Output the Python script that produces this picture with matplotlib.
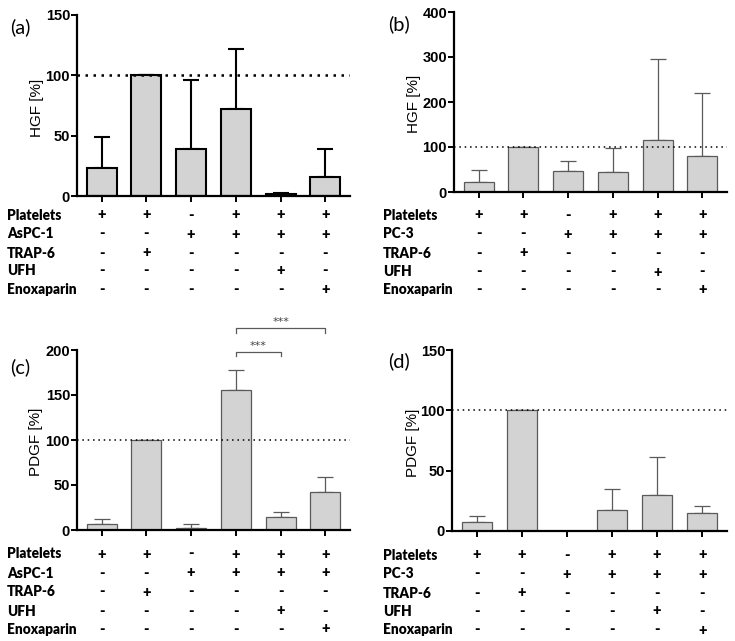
import matplotlib
matplotlib.use("Agg")
import matplotlib.pyplot as plt
from matplotlib.transforms import blended_transform_factory

W, H = 735, 641

# ---------------- data ----------------
conditions = ["Platelets", "CELL", "TRAP-6", "UFH", "Enoxaparin"]
signs = [
    ["+", "+", "-", "+", "+", "+"],
    ["-", "-", "+", "+", "+", "+"],
    ["-", "+", "-", "-", "-", "-"],
    ["-", "-", "-", "-", "+", "-"],
    ["-", "-", "-", "-", "-", "+"],
]

hgf_aspc1 = [23, 100, 39, 72, 1.5, 16]
hgf_aspc1_err = [26, 0, 57, 50, 1, 23]

hgf_pc3 = [23, 100, 47, 44, 115, 79]
hgf_pc3_err = [25, 0, 23, 53, 180, 142]

pdgf_aspc1 = [6.5, 100, 2, 156, 14, 42]
pdgf_aspc1_err = [5.5, 0, 4.5, 22, 5.5, 17]

pdgf_pc3 = [7.2, 100, 0, 17.7, 30, 15.3]
pdgf_pc3_err = [5, 0, 0, 17.3, 31, 5.7]

panels = [
    dict(tag="(a)", cell="AsPC-1", ylabel="HGF [%]", vals=hgf_aspc1, err=hgf_aspc1_err,
         ymax=150, ticks=[0, 50, 100, 150], box=(77, 350, 15, 196), dark=True,
         rows=[215, 234, 253, 271, 290], lx=7, tagpos=(10, 27), ylx=37),
    dict(tag="(b)", cell="PC-3", ylabel="HGF [%]", vals=hgf_pc3, err=hgf_pc3_err,
         ymax=400, ticks=[0, 100, 200, 300, 400], box=(454, 727, 12, 192), dark=False,
         rows=[215, 234, 253, 272, 290], lx=383, tagpos=(388, 24), ylx=414),
    dict(tag="(c)", cell="AsPC-1", ylabel="PDGF [%]", vals=pdgf_aspc1, err=pdgf_aspc1_err,
         ymax=200, ticks=[0, 50, 100, 150, 200], box=(77, 350, 350, 530), dark=False,
         rows=[554, 573, 592, 611, 629], lx=7, tagpos=(10, 367), ylx=36),
    dict(tag="(d)", cell="PC-3", ylabel="PDGF [%]", vals=pdgf_pc3, err=pdgf_pc3_err,
         ymax=150, ticks=[0, 50, 100, 150], box=(452, 727, 350, 531), dark=False,
         rows=[555, 574, 593, 611, 630], lx=383, tagpos=(388, 361), ylx=413),
]

# significance for (c): (from, to, level, label)
sig_pairs = [(3, 4, 198, "***"), (3, 5, 224, "***")]

fig = plt.figure(figsize=(W / 100, H / 100), dpi=100)
num_font = "Liberation Sans"
tab_font = "Lato"

x = list(range(6))
for p in panels:
    l, r, t, b = p["box"]
    ax = fig.add_axes([l / W, 1 - b / H, (r - l) / W, (b - t) / H])
    ax.patch.set_alpha(0)
    edge = "black" if p["dark"] else "#5a5a5a"
    lw = 1.5 if p["dark"] else 0.9
    ax.bar(x, p["vals"], width=0.67, color="#d3d3d3", edgecolor=edge, linewidth=lw, zorder=2)
    errs = [[0] * 6, p["err"]]
    ax.errorbar(x, p["vals"], yerr=errs, fmt="none", ecolor=edge, elinewidth=lw,
                capsize=5.5, capthick=lw, zorder=1)
    ax.axhline(100, color="black", linestyle=(0, (1, 2.2)) if p["dark"] else (0, (1, 2.5)),
               linewidth=1.8 if p["dark"] else 1.1, zorder=3)
    ax.set_xlim(-0.55, 5.55)
    ax.set_ylim(0, p["ymax"])
    ax.set_yticks(p["ticks"])
    ax.set_xticks(x)
    ax.set_xticklabels([])
    for s in ["top", "right"]:
        ax.spines[s].set_visible(False)
    for s in ["left", "bottom"]:
        ax.spines[s].set_linewidth(1.6)
    ax.tick_params(axis="both", direction="out", length=4, width=1.4, color="black")
    for lab in ax.get_yticklabels():
        lab.set_fontfamily(num_font)
        lab.set_fontweight("bold")
        lab.set_fontsize(10.5)
    ax.tick_params(axis="y", pad=1)
    # y label
    fig.text(p["ylx"] / W, 1 - ((t + b) / 2 + 2) / H, p["ylabel"], rotation=90,
             ha="center", va="center", fontsize=11, family=num_font)
    # panel tag
    fig.text(p["tagpos"][0] / W, 1 - p["tagpos"][1] / H, p["tag"], ha="left", va="center",
             fontsize=14.5, family=tab_font)
    # table
    tr = blended_transform_factory(ax.transData, fig.transFigure)
    for ri, (cond, row) in enumerate(zip(conditions, signs)):
        yy = 1 - p["rows"][ri] / H
        name = p["cell"] if cond == "CELL" else cond
        fig.text(p["lx"] / W, yy, name, ha="left", va="center", fontsize=9.8,
                 family=tab_font, fontweight="heavy")
        for xi, s in enumerate(row):
            ax.text(xi, yy, s, transform=tr, ha="center", va="center", fontsize=10.5,
                    family=tab_font, fontweight="heavy", clip_on=False)
    if p["tag"] == "(c)":
        for a, bb, lvl, lab in sig_pairs:
            ax.plot([a, a, bb, bb], [lvl - 5, lvl, lvl, lvl - 5], color="#5a5a5a",
                    linewidth=0.9, clip_on=False)
            ax.text((a + bb) / 2, lvl + 1, lab, ha="center", va="bottom", fontsize=8,
                    color="#444444", clip_on=False)

fig.savefig("out.png", dpi=100)
